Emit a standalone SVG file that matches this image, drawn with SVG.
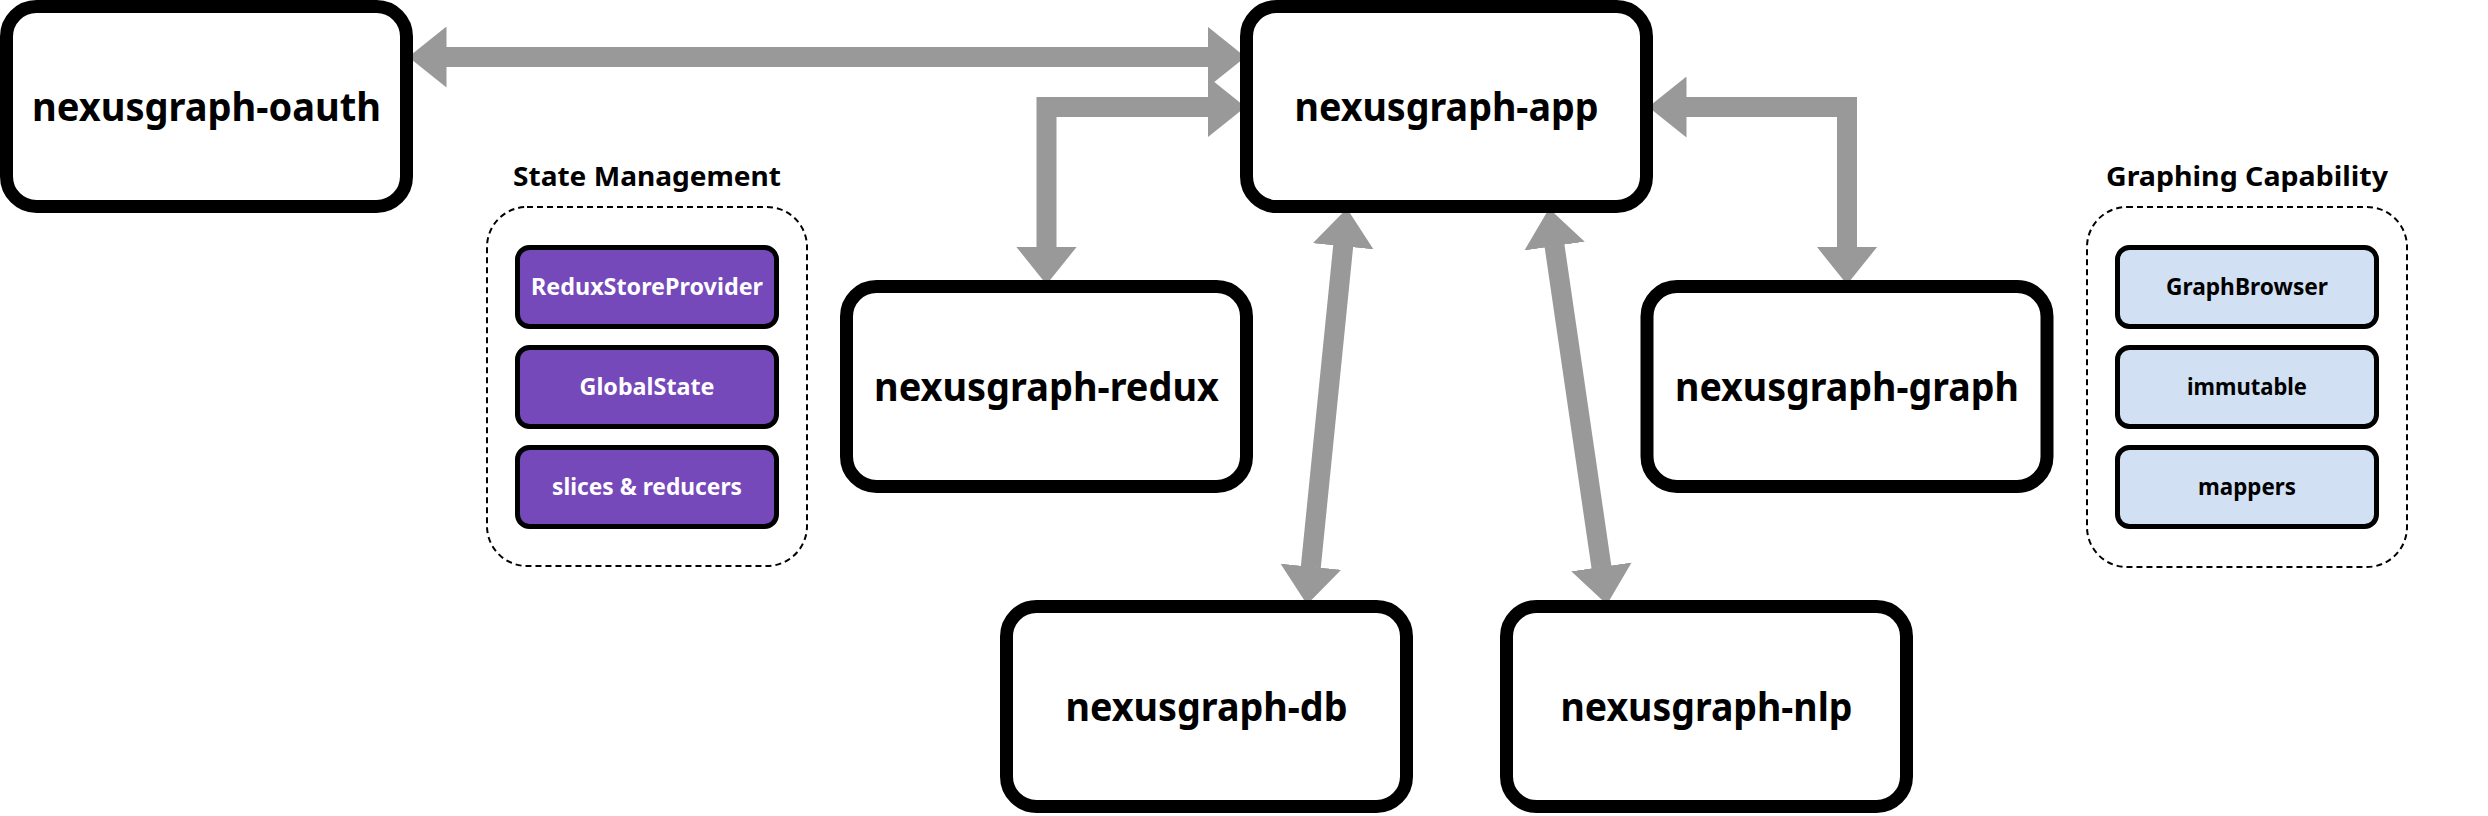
<svg xmlns="http://www.w3.org/2000/svg" width="2488" height="816" viewBox="0 0 2488 816">
<style>
.node rect{fill:#ffffff;stroke:#000000;stroke-width:13}
.node text{font-family:"Noto Sans","DejaVu Sans",sans-serif;font-weight:bold;font-size:39px;fill:#000;text-anchor:middle}
.grp{fill:none;stroke:#000;stroke-width:2;stroke-dasharray:6 4}
.title{font-family:"Noto Sans","DejaVu Sans",sans-serif;font-weight:bold;font-size:27px;fill:#000;text-anchor:middle}
.item rect{stroke:#000;stroke-width:5}
.item text{font-family:"Noto Sans","DejaVu Sans",sans-serif;font-weight:bold;font-size:23px;text-anchor:middle}
.purple rect{fill:#7549BA}
.purple text{fill:#ffffff}
.blue rect{fill:#D1E1F3}
.blue text{fill:#000000}
.conn{fill:none;stroke:#999999;stroke-width:20;stroke-linejoin:miter}
</style>
<defs>
<marker id="ah" viewBox="0 0 38 61" markerWidth="38" markerHeight="61" refX="0.5" refY="30.5" markerUnits="userSpaceOnUse" orient="auto-start-reverse">
<path d="M0,0 L38,30.5 L0,61 Z" fill="#999999"/>
</marker>
</defs>
<rect width="2488" height="816" fill="#ffffff"/>

<g id="connectors">
<path class="conn" d="M446,57 L1208,57" marker-start="url(#ah)" marker-end="url(#ah)"/>
<path class="conn" d="M1046.5,247 L1046.5,107 L1208,107" marker-start="url(#ah)" marker-end="url(#ah)"/>
<path class="conn" d="M1686,107 L1847,107 L1847,247" marker-start="url(#ah)" marker-end="url(#ah)"/>
<path class="conn" d="M1343.2,245.8 L1310.8,567.2" marker-start="url(#ah)" marker-end="url(#ah)"/>
<path class="conn" d="M1554.5,245.6 L1601.5,567.4" marker-start="url(#ah)" marker-end="url(#ah)"/>
</g>

<g id="node-oauth" class="node">
<rect x="6.5" y="6.5" width="400" height="200" rx="30"/>
<text x="206.5" y="121" textLength="349" lengthAdjust="spacingAndGlyphs">nexusgraph-oauth</text>
</g>
<g id="node-app" class="node">
<rect x="1246.5" y="6.5" width="400" height="200" rx="30"/>
<text x="1446.5" y="121" textLength="304" lengthAdjust="spacingAndGlyphs">nexusgraph-app</text>
</g>
<g id="node-redux" class="node">
<rect x="846.5" y="286.5" width="400" height="200" rx="30"/>
<text x="1046.5" y="401" textLength="345" lengthAdjust="spacingAndGlyphs">nexusgraph-redux</text>
</g>
<g id="node-graph" class="node">
<rect x="1647" y="286.5" width="400" height="200" rx="30"/>
<text x="1847" y="401" textLength="344" lengthAdjust="spacingAndGlyphs">nexusgraph-graph</text>
</g>
<g id="node-db" class="node">
<rect x="1006.5" y="606.5" width="400" height="200" rx="30"/>
<text x="1206.5" y="721" textLength="282" lengthAdjust="spacingAndGlyphs">nexusgraph-db</text>
</g>
<g id="node-nlp" class="node">
<rect x="1506.5" y="606.5" width="400" height="200" rx="30"/>
<text x="1706.5" y="721" textLength="292" lengthAdjust="spacingAndGlyphs">nexusgraph-nlp</text>
</g>

<g id="group-state">
<text class="title" x="647" y="186" textLength="268" lengthAdjust="spacingAndGlyphs">State Management</text>
<rect class="grp" x="487" y="207" width="320" height="359" rx="40"/>
<g id="item-reduxstoreprovider" class="item purple">
<rect x="517.5" y="247.5" width="259" height="79" rx="12"/>
<text x="647" y="295" textLength="232" lengthAdjust="spacingAndGlyphs">ReduxStoreProvider</text>
</g>
<g id="item-globalstate" class="item purple">
<rect x="517.5" y="347.5" width="259" height="79" rx="12"/>
<text x="647" y="395" textLength="135" lengthAdjust="spacingAndGlyphs">GlobalState</text>
</g>
<g id="item-slices" class="item purple">
<rect x="517.5" y="447.5" width="259" height="79" rx="12"/>
<text x="647" y="495" textLength="190" lengthAdjust="spacingAndGlyphs">slices &amp; reducers</text>
</g>
</g>

<g id="group-graphing">
<text class="title" x="2247" y="186" textLength="282" lengthAdjust="spacingAndGlyphs">Graphing Capability</text>
<rect class="grp" x="2087" y="207" width="320" height="360" rx="40"/>
<g id="item-graphbrowser" class="item blue">
<rect x="2117.5" y="247.5" width="259" height="79" rx="12"/>
<text x="2247" y="295" textLength="162" lengthAdjust="spacingAndGlyphs">GraphBrowser</text>
</g>
<g id="item-immutable" class="item blue">
<rect x="2117.5" y="347.5" width="259" height="79" rx="12"/>
<text x="2247" y="395" textLength="120" lengthAdjust="spacingAndGlyphs">immutable</text>
</g>
<g id="item-mappers" class="item blue">
<rect x="2117.5" y="447.5" width="259" height="79" rx="12"/>
<text x="2247" y="495" textLength="98" lengthAdjust="spacingAndGlyphs">mappers</text>
</g>
</g>
</svg>
